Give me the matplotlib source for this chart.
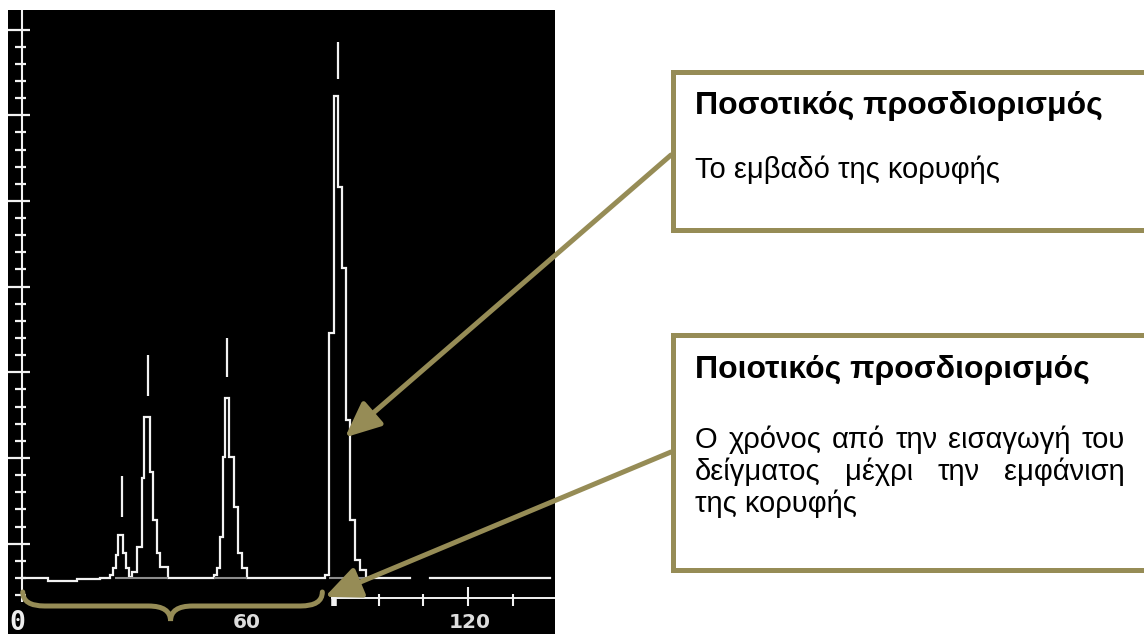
import numpy as np
import matplotlib.pyplot as plt
from matplotlib.patches import Rectangle, FancyArrowPatch, PathPatch
from matplotlib.path import Path

W, H, DPI = 1144, 634, 100
OLIVE = '#968C56'
TRACE = '#f2f2f2'
FONT = 'Liberation Sans'

# chromatogram, drawn as a step trace (time in min, detector signal)
trace_t = [0.0, 7.0, 14.8, 21.0,
           23.7, 24.5, 25.3, 25.8, 27.2, 28.0, 28.8,
           29.6, 30.9, 32.3, 32.8, 34.4, 35.2, 36.3, 37.1, 39.3,
           51.7, 52.5, 53.3, 54.1, 54.6, 55.7, 57.0, 58.1, 59.2, 60.5,
           81.5, 82.6, 83.9, 85.0, 86.1, 87.2, 88.2, 89.6, 90.9, 92.5,
           104.4, 109.8, 142.0]
trace_s = [0.0, -0.18, -0.06, 0.0,
           0.18, 0.58, 1.34, 2.51, 1.46, 0.58, 0.06,
           0.35, 1.81, 5.83, 9.39, 6.18, 3.38, 1.46, 0.64, 0.0,
           0.18, 0.58, 2.39, 7.06, 10.5, 7.06, 4.14, 1.46, 0.58, 0.0,
           0.18, 14.3, 28.1, 22.8, 18.1, 9.2, 3.4, 1.05, 0.47, 0.0,
           np.nan, 0.0, 0.0]

# retention marks printed above each apex
peak_t = [26.9, 33.9, 55.2, 85.0]
mark_lo = [3.56, 10.6, 11.7, 29.1]
mark_hi = [5.95, 13.0, 14.0, 31.3]

# integration baselines under the peaks
integ_start = [25.0, 51.7, 82.6]
integ_end = [39.3, 60.5, 92.5]

# axes
time_ticks = [84, 96, 108, 120, 132]
time_labels = [0, 60, 120]
signal_ticks = np.arange(-1, 33)

title_1 = 'Ποσοτικός προσδιορισμός'
body_1 = 'Το εμβαδό της κορυφής'
title_2 = 'Ποιοτικός προσδιορισμός'
body_2 = ['Ο χρόνος από την εισαγωγή του',
          'δείγματος μέχρι την εμφάνιση',
          'της κορυφής']

fig = plt.figure(figsize=(W / DPI, H / DPI), dpi=DPI, facecolor='white')

# ---- chromatogram panel ----
ax = fig.add_axes([8 / W, 0, 547 / W, 624 / H])
ax.set_facecolor('black')
ax.set_xlim(-3.77, 143.4)
ax.set_ylim(-3.27, 33.14)
ax.set_xticks([])
ax.set_yticks([])
for sp in ax.spines.values():
    sp.set_visible(False)

ax.plot(trace_t, trace_s, drawstyle='steps-post', color=TRACE, lw=1.6,
        solid_joinstyle='miter')
ax.hlines([-0.03] * len(integ_start), integ_start, integ_end,
          color='#8c8c8c', lw=1.5)
ax.vlines(peak_t, mark_lo, mark_hi, color=TRACE, lw=1.6)

# signal axis with hand-drawn ticks
ax.vlines(0, -1.4, 34, color=TRACE, lw=1.5)
for k in signal_ticks:
    if (k - 2) % 5 == 0:
        ax.hlines(k, -3.77, 2.2, color=TRACE, lw=1.6)
    else:
        ax.hlines(k, -1.9, 1.1, color=TRACE, lw=1.6)

# time axis (only the right part is visible)
ax.hlines(-1.17, 83.0, 143.4, color=TRACE, lw=1.4)
for t in time_ticks:
    top = -0.5 if t == 120 else -0.93
    ax.vlines(t, -1.63, top, color=TRACE, lw=4 if t == 84 else 1.5)
for t in time_labels:
    if t == 0:
        ax.text(-1.3, -2.6, '0', color='#eeeeee', fontsize=19,
                family='DejaVu Sans Mono', fontweight='bold',
                ha='center', va='center')
    else:
        ax.text(t + 0.5, -2.6, str(t), color='#dddddd', fontsize=14.5,
                family='DejaVu Sans', fontweight='bold',
                ha='center', va='center')

# ---- overlay in pixel coordinates ----
ov = fig.add_axes([0, 0, 1, 1])
ov.set_xlim(0, W)
ov.set_ylim(H, 0)
ov.axis('off')
ov.patch.set_alpha(0)


def to_px(t, s):
    x, y = ax.transData.transform((t, s))
    return x, H - y


# callout boxes
for y0, y1 in [(71.5, 229.5), (335, 570)]:
    ov.add_patch(Rectangle((672.5, y0), 600, y1 - y0, facecolor='white',
                           edgecolor=OLIVE, lw=3.6, zorder=2))

txt = dict(family=FONT, color='black', va='baseline', zorder=5)
ov.text(695, 114, title_1, fontsize=23, fontweight='bold', **txt)
ov.text(695, 178, body_1, fontsize=21, **txt)
ov.text(695, 378, title_2, fontsize=23, fontweight='bold', **txt)

renderer = fig.canvas.get_renderer()


def justify(line, x0, x1, y):
    words = line.split()
    arts = [ov.text(0, y, w, fontsize=21, **txt) for w in words]
    widths = [a.get_window_extent(renderer).width for a in arts]
    gap = (x1 - x0 - sum(widths)) / (len(words) - 1)
    x = x0
    for a, w in zip(arts, widths):
        a.set_x(x)
        x += w + gap


justify(body_2[0], 695, 1125, 448)
justify(body_2[1], 695, 1125, 480)
ov.text(695, 512, body_2[2], fontsize=21, **txt)

# arrows: peak area and retention time
tip_area = to_px(peak_t[3] + 1.9, 8.2)
tip_time = to_px(81.5, -1.1)
for tail, tip in [((671, 155), tip_area), ((671, 452), tip_time)]:
    ov.add_patch(FancyArrowPatch(tail, tip,
                                 arrowstyle='-|>,head_length=0.9,head_width=0.4',
                                 mutation_scale=24, lw=3.6, color=OLIVE,
                                 shrinkA=0, shrinkB=0, zorder=3))

# brace from injection to the start of the last peak
x0, _ = to_px(0.2, 0)
x1, _ = to_px(80.8, 0)
xm = (x0 + x1) / 2 - 2
yt, yh, yb, r = 592, 606, 621, 22
verts = [(x0, yt), (x0, yh), (x0 + r, yh),
         (xm - r, yh),
         (xm, yh), (xm, yb),
         (xm, yh), (xm + r, yh),
         (x1 - r, yh),
         (x1, yh), (x1, yt)]
codes = [Path.MOVETO, Path.CURVE3, Path.CURVE3,
         Path.LINETO,
         Path.CURVE3, Path.CURVE3,
         Path.CURVE3, Path.CURVE3,
         Path.LINETO,
         Path.CURVE3, Path.CURVE3]
ov.add_patch(PathPatch(Path(verts, codes), facecolor='none', edgecolor=OLIVE,
                       lw=3.6, capstyle='round', zorder=3))

fig.savefig('out.png', dpi=DPI, facecolor='white')
